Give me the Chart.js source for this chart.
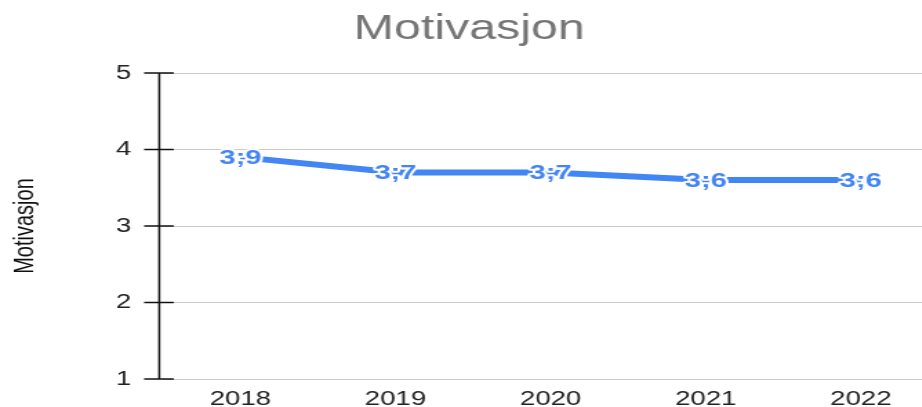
<!DOCTYPE html>
<html>
<head>
<meta charset="utf-8">
<script src="https://cdn.jsdelivr.net/npm/chart.js@4.4.1/dist/chart.umd.min.js"></script>
<style>
  html, body { margin: 0; padding: 0; background: #fff; overflow: hidden; }
  #wrap { width: 922px; height: 407px; overflow: hidden; position: relative; }
  /* the reference is stretched sideways, so draw narrow and scale up */
  #chart { position: absolute; left: 0; top: 0; transform: scaleX(1.38); transform-origin: 0 0; }
</style>
</head>
<body>
<div id="wrap"><canvas id="chart" width="680" height="414"></canvas></div>
<script>
const years = ['2018', '2019', '2020', '2021', '2022']
const motivasjon = [3.9, 3.7, 3.7, 3.6, 3.6]
const yTicks = [1, 2, 3, 4, 5]

const blue = '#4285F4'

// Black axis line and crossing tick marks on the y axis
const axisMarks = {
  id: 'axisMarks',
  afterDraw(chart) {
    const { ctx, chartArea, scales } = chart
    const x0 = chartArea.left - 2.6
    ctx.save()
    ctx.strokeStyle = '#111'
    ctx.lineWidth = 1.5
    ctx.beginPath()
    ctx.moveTo(x0, scales.y.getPixelForValue(5))
    ctx.lineTo(x0, scales.y.getPixelForValue(1))
    ctx.stroke()
    yTicks.forEach((v) => {
      const y = scales.y.getPixelForValue(v)
      ctx.beginPath()
      ctx.moveTo(x0 - 11, y)
      ctx.lineTo(x0 + 10.5, y)
      ctx.stroke()
    })
    ctx.restore()
  }
}

// Value labels centred on each point, with a white halo
const valueLabels = {
  id: 'valueLabels',
  afterDatasetsDraw(chart) {
    const { ctx } = chart
    const meta = chart.getDatasetMeta(0)
    ctx.save()
    ctx.font = 'bold 21px "Liberation Sans", Arial, sans-serif'
    ctx.textAlign = 'center'
    ctx.textBaseline = 'middle'
    ctx.lineJoin = 'round'
    meta.data.forEach((pt, i) => {
      const text = motivasjon[i].toFixed(1).replace('.', ';')
      ctx.strokeStyle = '#fff'
      ctx.lineWidth = 4
      ctx.strokeText(text, pt.x, pt.y + 1)
      ctx.fillStyle = blue
      ctx.fillText(text, pt.x, pt.y + 1)
    })
    ctx.restore()
  }
}

new Chart(document.getElementById('chart'), {
  type: 'line',
  data: {
    labels: years,
    datasets: [
      {
        label: 'Motivasjon',
        data: motivasjon,
        borderColor: blue,
        backgroundColor: blue,
        borderWidth: 6,
        pointRadius: 0,
        tension: 0
      }
    ]
  },
  options: {
    responsive: false,
    animation: false,
    layout: { padding: { top: 0, right: 0, bottom: 0, left: 0 } },
    plugins: {
      legend: { display: false },
      tooltip: { enabled: false },
      title: {
        display: true,
        text: 'Motivasjon',
        color: '#757575',
        font: { family: '"Liberation Sans", Arial, sans-serif', size: 35, weight: 'normal' },
        padding: { top: 8, bottom: 23 }
      }
    },
    scales: {
      x: {
        offset: true,
        grid: { display: false, drawTicks: false },
        border: { display: false },
        ticks: {
          color: '#222',
          padding: 8,
          font: { family: '"Liberation Sans", Arial, sans-serif', size: 20 }
        },
        afterFit(scale) { scale.height = 28 }
      },
      y: {
        min: 1,
        max: 5,
        grid: { color: '#cccccc', lineWidth: 1, drawTicks: false },
        border: { display: false },
        ticks: {
          stepSize: 1,
          color: '#222',
          padding: 23,
          font: { family: '"Liberation Sans", Arial, sans-serif', size: 20 }
        },
        title: {
          display: true,
          text: 'Motivasjon',
          color: '#111',
          padding: { top: 6, bottom: 0 },
          font: { family: '"Liberation Sans", Arial, sans-serif', size: 20 }
        },
        afterFit(scale) { scale.width = 118 }
      }
    }
  },
  plugins: [axisMarks, valueLabels]
})
</script>
</body>
</html>
